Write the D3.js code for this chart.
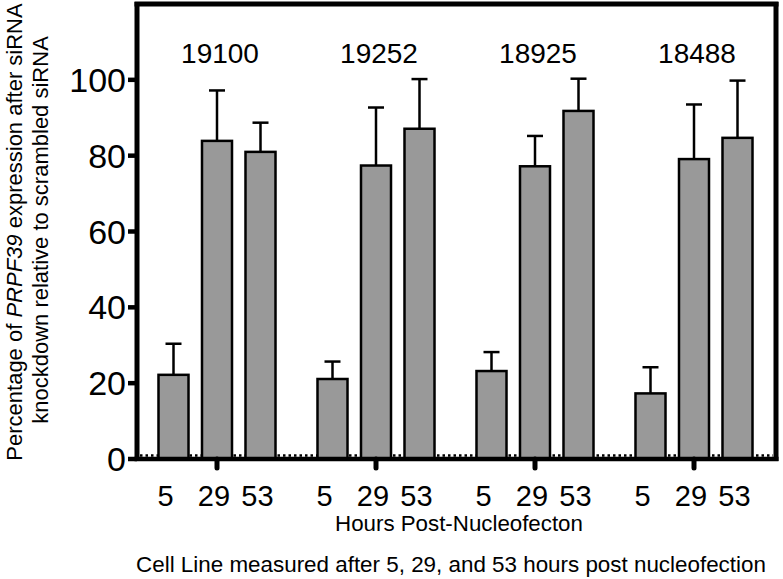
<!DOCTYPE html>
<html>
<head>
<meta charset="utf-8">
<script src="https://d3js.org/d3.v7.min.js"></script>
<style>
body { margin: 0; background: white; }
svg { display: block; font-family: 'Liberation Sans', Arial, sans-serif; }
</style>
</head>
<body>
<svg width="783" height="579"></svg>
<script>
// cell lines and time points
const cellLines = ['19100', '19252', '18925', '18488']
const hours = ['5', '29', '53']
// mean % expression, one row per cell line (5h, 29h, 53h)
const means = [
  [22.2, 83.9, 81.0],
  [21.1, 77.4, 87.1],
  [23.2, 77.2, 91.8],
  [17.3, 79.1, 84.7]
]
// upper error bar ends
const errTops = [
  [30.4, 97.2, 88.7],
  [25.7, 92.7, 100.2],
  [28.2, 85.2, 100.3],
  [24.2, 93.5, 99.8]
]
const yTicks = [0, 20, 40, 60, 80, 100]

const svg = d3.select('svg')
const plotL = 137, plotR = 776, plotT = 4, plotB = 459

const y = d3.scaleLinear().domain([0, 120]).range([plotB, plotT])
const xGroup = d3.scaleBand().domain(cellLines).range([137.5, 773.5])
const xBar = d3.scaleBand().domain(hours)
  .range([14.25, 144.75]).paddingInner(0.31).paddingOuter(0.155)

const data = []
cellLines.forEach((c, i) => {
  hours.forEach((h, j) => {
    data.push({ cell: c, hour: h, mean: means[i][j], err: errTops[i][j] })
  })
})

// dotted pattern just above the baseline
svg.append('line')
  .attr('x1', plotL + 3).attr('x2', plotR - 3)
  .attr('y1', plotB - 3.5).attr('y2', plotB - 3.5)
  .attr('stroke', 'black').attr('stroke-width', 2.5)
  .attr('stroke-dasharray', '2.5,3')

// error bars
const eb = svg.append('g').attr('stroke', 'black').attr('stroke-width', 2.5)
data.forEach(d => {
  const cx = xGroup(d.cell) + xBar(d.hour) + xBar.bandwidth() / 2
  eb.append('line').attr('x1', cx).attr('x2', cx).attr('y1', y(d.mean)).attr('y2', y(d.err))
  eb.append('line').attr('x1', cx - 8).attr('x2', cx + 8).attr('y1', y(d.err)).attr('y2', y(d.err))
})

// bars
svg.append('g').selectAll('rect').data(data).enter().append('rect')
  .attr('x', d => xGroup(d.cell) + xBar(d.hour))
  .attr('width', xBar.bandwidth())
  .attr('y', d => y(d.mean))
  .attr('height', d => y(0) - y(d.mean))
  .attr('fill', '#999999')
  .attr('stroke', 'black')
  .attr('stroke-width', 2.5)

// frame
svg.append('line').attr('x1', plotL).attr('x2', plotL).attr('y1', plotT - 2).attr('y2', plotB + 2)
  .attr('stroke', 'black').attr('stroke-width', 5)
svg.append('line').attr('x1', plotL - 2.5).attr('x2', plotR + 2.5).attr('y1', plotT).attr('y2', plotT)
  .attr('stroke', 'black').attr('stroke-width', 5)
svg.append('line').attr('x1', plotR).attr('x2', plotR).attr('y1', plotT - 2).attr('y2', plotB + 2)
  .attr('stroke', 'black').attr('stroke-width', 5)
svg.append('line').attr('x1', plotL - 2.5).attr('x2', plotR + 2.5).attr('y1', plotB).attr('y2', plotB)
  .attr('stroke', 'black').attr('stroke-width', 4.5)

// y axis ticks
const yAx = svg.append('g')
yAx.selectAll('line').data(yTicks).enter().append('line')
  .attr('x1', plotL - 9).attr('x2', plotL)
  .attr('y1', d => y(d)).attr('y2', d => y(d))
  .attr('stroke', 'black').attr('stroke-width', 4.5)
yAx.selectAll('text').data(yTicks).enter().append('text')
  .attr('x', plotL - 11).attr('y', d => y(d) + 12)
  .attr('text-anchor', 'end')
  .attr('font-size', 34)
  .text(d => d)

// x group ticks
svg.append('g').selectAll('line').data(cellLines).enter().append('line')
  .attr('x1', d => xGroup(d) + xGroup.bandwidth() / 2)
  .attr('x2', d => xGroup(d) + xGroup.bandwidth() / 2)
  .attr('y1', plotB).attr('y2', plotB + 9)
  .attr('stroke', 'black').attr('stroke-width', 5).attr('stroke-linecap', 'round')

// hour labels
const hl = svg.append('g')
cellLines.forEach(c => {
  hl.selectAll(null).data(hours).enter().append('text')
    .attr('x', h => xGroup(c) + xBar(h) + xBar.bandwidth() / 2)
    .attr('dx', h => h.length === 1 ? -8 : -3)
    .attr('y', 506)
    .attr('text-anchor', 'middle')
    .attr('font-size', 29)
    .text(h => h)
})

// cell line labels
svg.append('g').selectAll('text').data(cellLines).enter().append('text')
  .attr('x', d => xGroup(d) + xGroup.bandwidth() / 2 + 3)
  .attr('y', 63)
  .attr('text-anchor', 'middle')
  .attr('font-size', 28)
  .text(d => d)

// axis titles
svg.append('text').attr('x', 459).attr('y', 531)
  .attr('text-anchor', 'middle').attr('font-size', 22.3)
  .text('Hours Post-Nucleofecton')
svg.append('text').attr('x', 451).attr('y', 572)
  .attr('text-anchor', 'middle').attr('font-size', 22.4)
  .text('Cell Line measured after 5, 29, and 53 hours post nucleofection')

const yl = svg.append('text')
  .attr('transform', 'translate(22,232) rotate(-90)')
  .attr('text-anchor', 'middle').attr('font-size', 22)
yl.append('tspan').text('Percentage of ')
yl.append('tspan').attr('font-style', 'italic').text('PRPF39')
yl.append('tspan').text(' expression after siRNA')
svg.append('text')
  .attr('transform', 'translate(48,230) rotate(-90)')
  .attr('text-anchor', 'middle').attr('font-size', 22)
  .text('knockdown relative to scrambled siRNA')
</script>
</body>
</html>
